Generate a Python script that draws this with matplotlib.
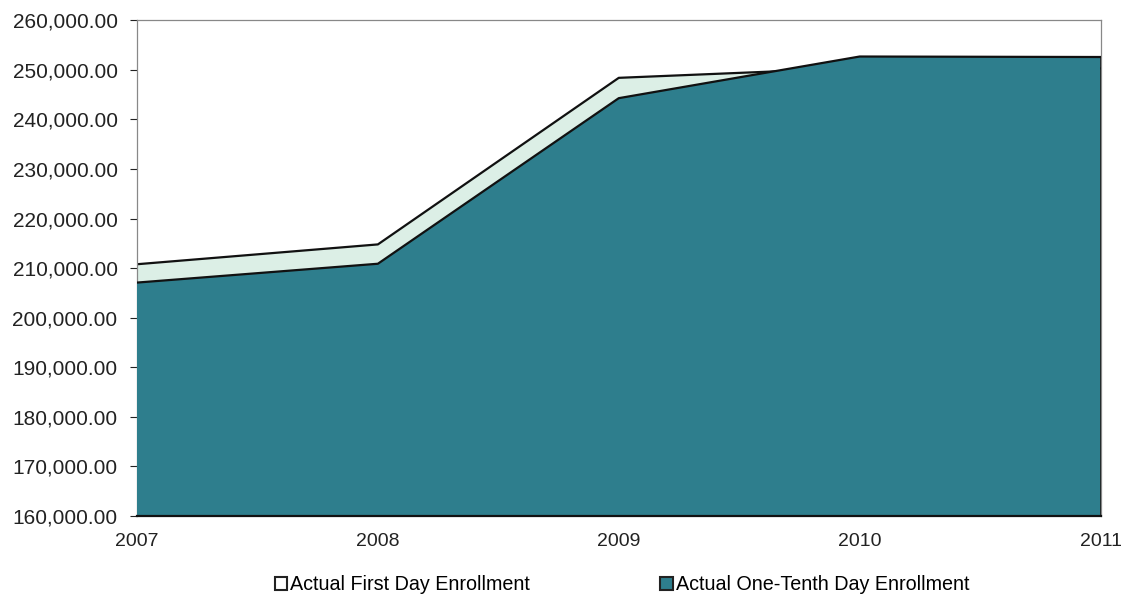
import numpy as np
import matplotlib
matplotlib.use("Agg")
import matplotlib.pyplot as plt
from matplotlib.patches import Patch
from matplotlib.ticker import FuncFormatter

years = [2007, 2008, 2009, 2010, 2011]
first_day = [210800, 214800, 248400, 250400, 250300]
tenth_day = [207100, 210900, 244300, 252700, 252600]

teal = '#2e7e8d'
mint = '#dcefe6'

plt.rcParams['font.family'] = ['Liberation Sans', 'DejaVu Sans']

fig = plt.figure(figsize=(11.23, 5.98), dpi=100)
ax = fig.add_axes([0.122, 0.137, 0.858, 0.829])

ax.fill_between(years, 160000, first_day, facecolor=mint, edgecolor='none', zorder=1)
ax.plot(years, first_day, color='#111111', lw=1.6, zorder=2)
ax.fill_between(years, 160000, tenth_day, facecolor=teal, edgecolor='none', zorder=3)
ax.plot(years, tenth_day, color='#111111', lw=1.6, zorder=4)
ax.plot([2011, 2011], [160000, tenth_day[-1]], color='#111111', lw=1.2, zorder=4)

ax.set_xlim(2007, 2011)
ax.set_ylim(160000, 260000)
ax.set_xticks(years)
ax.set_yticks(np.arange(160000, 260001, 10000))
ax.yaxis.set_major_formatter(FuncFormatter(lambda v, p: '{:,.2f}'.format(v)))
ax.tick_params(axis='y', labelsize=15, colors='#222222', length=5, width=0.8, pad=9)
ax.tick_params(axis='x', labelsize=14, colors='#222222', length=0, pad=12)

for s in ['left', 'top', 'right']:
    ax.spines[s].set_color('#888888')
    ax.spines[s].set_linewidth(0.9)
ax.spines['bottom'].set_color('#111111')
ax.spines['bottom'].set_linewidth(1.6)
ax.spines['bottom'].set_zorder(5)

handles = [Patch(facecolor='white', edgecolor='#222222', lw=1.5, label='Actual First Day Enrollment'),
           Patch(facecolor=teal, edgecolor='#222222', lw=1.5, label='Actual One-Tenth Day Enrollment')]
fig.legend(handles=handles, loc='center', ncol=2, frameon=False, fontsize=14.2,
           bbox_to_anchor=(0.554, 0.022), handlelength=0.65, handleheight=0.65,
           handletextpad=0.15, columnspacing=6.6, borderpad=0)

fig.savefig('out.png', dpi=100)
